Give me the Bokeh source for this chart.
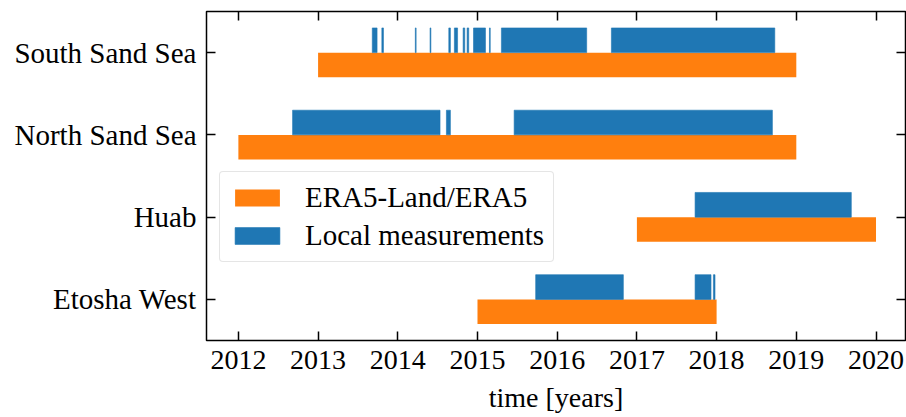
from bokeh.plotting import figure
from bokeh.models import (FactorRange, Range1d, LinearAxis, CategoricalAxis, Legend,
                          LegendItem, ColumnDataSource, FixedTicker, CustomLabelingPolicy)
from bokeh.transform import dodge
from bokeh.embed import file_html
from bokeh.resources import INLINE

# ---- data ----
sites = ["Etosha West", "Huab", "North Sand Sea", "South Sand Sea"]

era5_site = ["Etosha West", "Huab", "North Sand Sea", "South Sand Sea"]
era5_start = [2015.0, 2017.0, 2012.0, 2013.0]
era5_end = [2018.0, 2020.0, 2019.0, 2019.0]

local_site = ["South Sand Sea"] * 12 + ["North Sand Sea"] * 3 + ["Huab"] + ["Etosha West"] * 3
local_start = [2013.68, 2013.80, 2014.22, 2014.405, 2014.64, 2014.71, 2014.82, 2014.87,
               2014.95, 2015.15, 2015.30, 2016.68,
               2012.68, 2014.61, 2015.46,
               2017.73,
               2015.73, 2017.73, 2017.96]
local_end = [2013.74, 2013.82, 2014.23, 2014.415, 2014.66, 2014.75, 2014.84, 2014.89,
             2015.10, 2015.16, 2016.37, 2018.73,
             2014.53, 2014.66, 2018.70,
             2019.69,
             2016.83, 2017.93, 2017.98]

years = [2012, 2013, 2014, 2015, 2016, 2017, 2018, 2019, 2020]

FONT = "Liberation Serif"
ORANGE = "#ff7f0e"
BLUE = "#1f77b4"

p = figure(y_range=FactorRange(factors=sites), x_range=Range1d(2011.6, 2020.37),
           width=906, height=417,
           min_border_left=206, min_border_right=1, min_border_top=11, min_border_bottom=77,
           output_backend="svg", toolbar_location=None, x_axis_label="time [years]")

src_era = ColumnDataSource(dict(site=era5_site, start=era5_start, end=era5_end))
src_loc = ColumnDataSource(dict(site=local_site, start=local_start, end=local_end))

r_era = p.hbar(y=dodge("site", -0.15, range=p.y_range), left="start", right="end", height=0.3,
               source=src_era, fill_color=ORANGE, line_color=None)
r_loc = p.hbar(y=dodge("site", 0.15, range=p.y_range), left="start", right="end", height=0.3,
               source=src_loc, fill_color=BLUE, line_color=BLUE, line_width=0.6)

p.xgrid.visible = False
p.ygrid.visible = False
p.outline_line_color = "black"
p.outline_line_width = 1.5
p.background_fill_color = "white"
p.border_fill_color = "white"

p.xaxis.ticker = FixedTicker(ticks=years)

hide_all = "for (const i of indices) { indices.unset(i) }\nreturn indices"
top = LinearAxis(ticker=FixedTicker(ticks=years), major_label_standoff=0,
                 major_label_text_font_size="0px",
                 major_label_policy=CustomLabelingPolicy(code=hide_all))
p.add_layout(top, "above")
right = CategoricalAxis(major_label_standoff=0, major_label_text_font_size="0px",
                        major_label_policy=CustomLabelingPolicy(code=hide_all))
p.add_layout(right, "right")

for ax in p.xaxis + p.yaxis:
    ax.axis_line_color = None
    ax.major_tick_in = 9
    ax.major_tick_out = 0
    ax.major_tick_line_color = "black"
    ax.major_tick_line_width = 1.5
    ax.minor_tick_line_color = None

xa = p.below[0]
xa.major_label_text_font = FONT
xa.major_label_text_font_size = "28px"
xa.major_label_text_color = "black"
xa.major_label_standoff = 10
xa.axis_label_text_font = FONT
xa.axis_label_text_font_size = "28px"
xa.axis_label_text_font_style = "normal"
xa.axis_label_text_color = "black"
xa.axis_label_standoff = 10

ya = p.left[0]
ya.major_label_text_font = FONT
ya.major_label_text_font_size = "29px"
ya.major_label_text_color = "black"
ya.major_label_standoff = 10

legend = Legend(items=[LegendItem(label="ERA5-Land/ERA5", renderers=[r_era]),
                       LegendItem(label="Local measurements", renderers=[r_loc])],
                location=(13, 78), glyph_width=56, glyph_height=21, label_standoff=20,
                padding=9, spacing=5, margin=0,
                border_line_color="#cccccc", border_line_width=1.5,
                background_fill_color="white", background_fill_alpha=0.8,
                label_text_font=FONT, label_text_font_size="29px", label_text_color="black")
try:
    legend.border_radius = 4
except Exception:
    pass
p.add_layout(legend, "center")

open("out.html", "w").write(file_html(p, INLINE))
